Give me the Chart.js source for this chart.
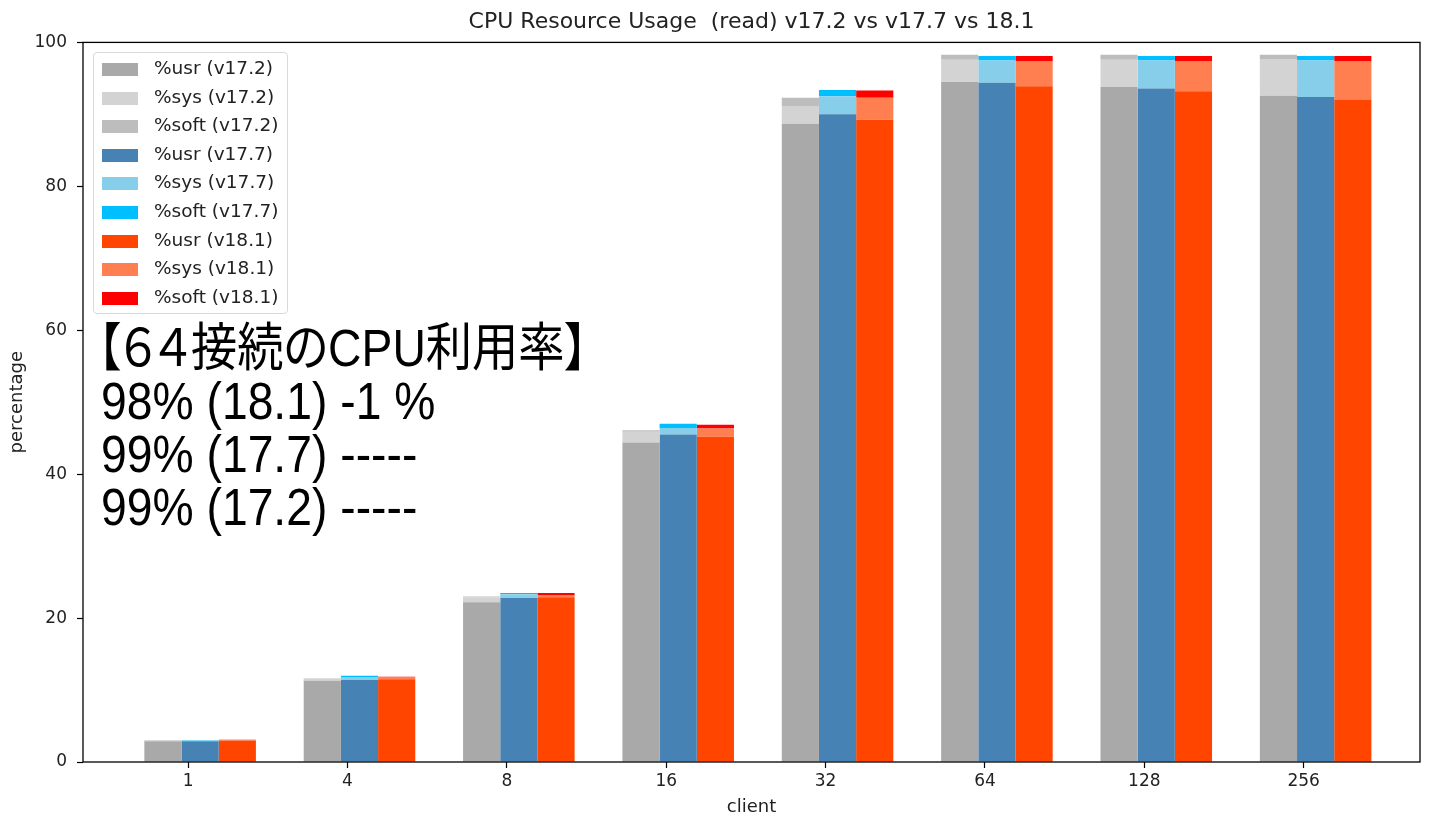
<!DOCTYPE html>
<html>
<head>
<meta charset="utf-8">
<script src="https://cdn.jsdelivr.net/npm/chart.js@4.4.1/dist/chart.umd.min.js"></script>
<style>
  body { margin: 0; background: #fff; }
  #wrap { position: relative; width: 1433px; height: 818px; }
  #legend {
    position: absolute; left: 93px; top: 52px; width: 193px; height: 260px;
    border: 1px solid #d9d9d9; border-radius: 4px; background: rgba(255,255,255,0.8);
    font-family: 'DejaVu Sans', sans-serif; font-size: 18.5px; color: #222;
  }
  .item { position: absolute; left: 0; height: 28px; width: 100%; }
  .sw { position: absolute; left: 8px; top: 8px; width: 36px; height: 13px; }
  .lbl { position: absolute; left: 60px; top: 2px; white-space: nowrap; }
  #note {
    position: absolute; left: 101px; top: 322px;
    font-family: 'Liberation Sans', 'Noto Sans CJK JP', sans-serif;
    font-size: 52px; line-height: 53px; color: #000;
    transform: scaleX(0.89); transform-origin: left top; white-space: nowrap;
  }
  #note .head { font-feature-settings: "palt"; margin-left: -4px; }
</style>
</head>
<body>
<div id="wrap">
  <canvas id="cpuChart" width="1433" height="818"></canvas>
  <div id="legend"></div>
  <div id="note"><span class="head">【６４接続のCPU利用率】</span><br>98% (18.1) -1 %<br>99% (17.7) -----<br>99% (17.2) -----</div>
</div>
<script>
// values
const clients = ['1', '4', '8', '16', '32', '64', '128', '256'];

const usr172  = [2.9, 11.3, 22.2, 44.4, 88.7, 94.5, 93.8, 92.6];
const sys172  = [0.1, 0.25, 0.7, 1.5, 2.45, 3.1, 3.8, 5.1];
const soft172 = [0.05, 0.05, 0.1, 0.2, 1.15, 0.7, 0.7, 0.6];

const usr177  = [2.9, 11.4, 22.8, 45.5, 90.0, 94.4, 93.6, 92.4];
const sys177  = [0.1, 0.4, 0.5, 0.9, 2.5, 3.1, 3.9, 5.1];
const soft177 = [0.05, 0.2, 0.2, 0.6, 0.9, 0.6, 0.6, 0.6];

const usr181  = [2.95, 11.5, 22.9, 45.2, 89.25, 93.9, 93.2, 92.0];
const sys181  = [0.1, 0.25, 0.3, 1.15, 3.05, 3.5, 4.2, 5.4];
const soft181 = [0.05, 0.1, 0.3, 0.5, 1.0, 0.7, 0.7, 0.7];

const yTicks = [0, 20, 40, 60, 80, 100];

// bars sit a bit right of the tick, like the matplotlib original
const shift = 0.075;
const pts = arr => arr.map((v, i) => ({ x: i + shift, y: v }));

function ds(label, values, color, stack) {
    return {
        label: label,
        data: pts(values),
        backgroundColor: color,
        borderWidth: 0,
        stack: stack,
        barPercentage: 1.0,
        categoryPercentage: 0.7
    };
}

const datasets = [
    ds('%usr (v17.2)', usr172, '#a9a9a9', 'v17.2'),
    ds('%sys (v17.2)', sys172, '#d3d3d3', 'v17.2'),
    ds('%soft (v17.2)', soft172, '#bdbdbd', 'v17.2'),
    ds('%usr (v17.7)', usr177, '#4682b4', 'v17.7'),
    ds('%sys (v17.7)', sys177, '#87ceeb', 'v17.7'),
    ds('%soft (v17.7)', soft177, '#00bfff', 'v17.7'),
    ds('%usr (v18.1)', usr181, '#ff4500', 'v18.1'),
    ds('%sys (v18.1)', sys181, '#ff7f50', 'v18.1'),
    ds('%soft (v18.1)', soft181, '#ff0000', 'v18.1')
];

// matplotlib style box around the plot area
const frameBox = {
    id: 'frameBox',
    afterDraw(chart) {
        const a = chart.chartArea;
        const ctx = chart.ctx;
        ctx.save();
        ctx.strokeStyle = '#000';
        ctx.lineWidth = 1.3;
        ctx.strokeRect(a.left, a.top, a.right - a.left, a.bottom - a.top);
        ctx.restore();
    }
};

const font = 'DejaVu Sans';

const chart = new Chart(document.getElementById('cpuChart'), {
    type: 'bar',
    data: { datasets: datasets },
    plugins: [frameBox],
    options: {
        responsive: false,
        animation: false,
        layout: { padding: { left: 0, right: 13, top: 0, bottom: 0 } },
        scales: {
            x: {
                type: 'linear',
                stacked: true,
                min: -0.66,
                max: 7.73,
                offset: false,
                afterBuildTicks: axis => { axis.ticks = clients.map((c, i) => ({ value: i })); },
                afterFit: scale => { scale.height = 56; },
                ticks: {
                    callback: v => clients[v],
                    color: '#222',
                    font: { family: font, size: 17 },
                    padding: 3
                },
                grid: { offset: false, drawOnChartArea: false, tickColor: '#000', tickLength: 6, tickWidth: 1.2 },
                border: { display: false },
                title: {
                    display: true, text: 'client', color: '#222',
                    font: { family: font, size: 18 }, padding: { top: 0, bottom: 0 }
                }
            },
            y: {
                stacked: true,
                min: 0,
                max: 100,
                afterBuildTicks: axis => { axis.ticks = yTicks.map(v => ({ value: v })); },
                afterFit: scale => { scale.width = 83; },
                ticks: {
                    color: '#222',
                    font: { family: font, size: 17 },
                    padding: 10
                },
                grid: { drawOnChartArea: false, tickColor: '#000', tickLength: 6, tickWidth: 1.2 },
                border: { display: false },
                title: {
                    display: true, text: 'percentage', color: '#222',
                    font: { family: font, size: 18 }, padding: { top: 7, bottom: 0 }
                }
            }
        },
        plugins: {
            legend: { display: false },
            tooltip: { enabled: false },
            title: {
                display: true,
                fullSize: false,
                text: 'CPU Resource Usage  (read) v17.2 vs v17.7 vs 18.1',
                color: '#222',
                font: { family: font, size: 22, weight: 'normal' },
                padding: { top: 9, bottom: 7 }
            }
        }
    }
});

// legend box inside the plot, built from the datasets
const legendEl = document.getElementById('legend');
chart.data.datasets.forEach((d, i) => {
    const item = document.createElement('div');
    item.className = 'item';
    item.style.top = (2 + i * 28.6) + 'px';
    item.innerHTML = '<span class="sw" style="background:' + d.backgroundColor + '"></span>' +
        '<span class="lbl">' + d.label + '</span>';
    legendEl.appendChild(item);
});
</script>
</body>
</html>
